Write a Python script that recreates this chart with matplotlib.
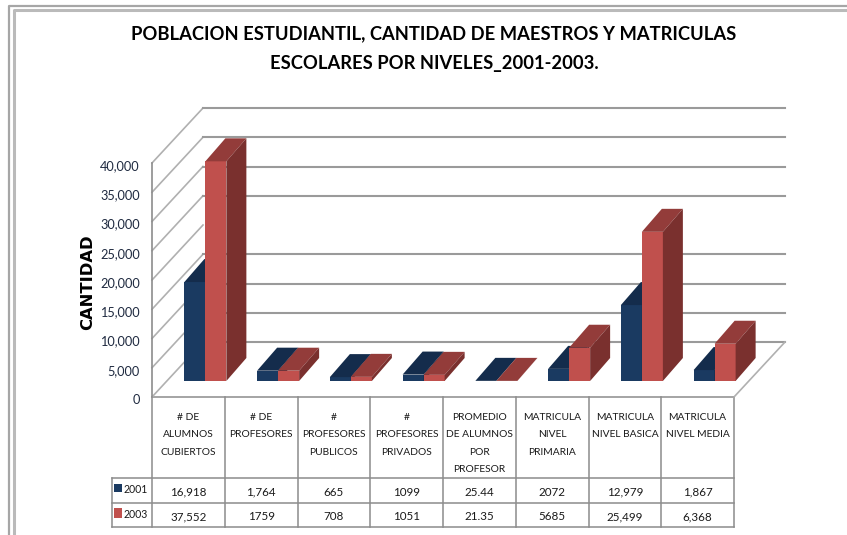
#!/usr/bin/env python3
# -*- coding: utf-8 -*-
import matplotlib
matplotlib.use('Agg')
import matplotlib.pyplot as plt
from matplotlib.patches import Polygon

categorias = [
    "# DE\nALUMNOS\nCUBIERTOS", "# DE\nPROFESORES", "#\nPROFESORES\nPUBLICOS",
    "#\nPROFESORES\nPRIVADOS", "PROMEDIO\nDE ALUMNOS\nPOR\nPROFESOR",
    "MATRICULA\nNIVEL\nPRIMARIA", "MATRICULA\nNIVEL BASICA", "MATRICULA\nNIVEL MEDIA",
]
v2001 = [16918, 1764, 665, 1099, 25.44, 2072, 12979, 1867]
v2003 = [37552, 1759, 708, 1051, 21.35, 5685, 25499, 6368]
t2001 = ["16,918", "1,764", "665", "1099", "25.44", "2072", "12,979", "1,867"]
t2003 = ["37,552", "1759", "708", "1051", "21.35", "5685", "25,499", "6,368"]
y_ticks = [0, 5000, 10000, 15000, 20000, 25000, 30000, 35000, 40000]
y_labels = ["0", "5,000", "10,000", "15,000", "20,000", "25,000", "30,000", "35,000", "40,000"]

W, H = 847, 535
FUENTE = ['Lato', 'DejaVu Sans']
AZUL, AZUL_T, AZUL_L = '#1a3a61', '#142c4c', '#102440'
ROJO, ROJO_T, ROJO_L = '#c0504d', '#933c3a', '#7a302e'
GRIS = '#8c8c8c'

fig = plt.figure(figsize=(W / 100, H / 100), dpi=100)

# ejes del plano frontal, en pixeles: x 152-734, y 397-163
X0, X1, Y0, Y1 = 152, 734, 397, 163
ax = fig.add_axes([X0 / W, 1 - Y0 / H, (X1 - X0) / W, (Y0 - Y1) / H])
ax.set_xlim(0, 8)
ax.set_ylim(0, 40000)
ax.axis('off')

PX = 8 / (X1 - X0)
PY = 40000 / (Y0 - Y1)

# fondo de la figura: marco gris doble
bg = fig.add_axes([0, 0, 1, 1], zorder=-1)
bg.set_xlim(0, W)
bg.set_ylim(H, 0)
bg.axis('off')
bg.plot([8.5, 8.5, W], [H, 5.5, 5.5], color='#a6a6a6', lw=1.6)
bg.plot([13.5, 13.5, W], [H, 10, 10], color='#bababa', lw=2.2)

# paredes con las lineas de la cuadricula
DX, DY = 51 * PX, 55 * PY
for t in y_ticks:
    ax.plot([0, DX], [t, t + DY], color='#b0b0b0', lw=1.2, clip_on=False, zorder=1)
    # la linea de 20,000 no se ve en la pared del fondo
    if t != 20000:
        ax.plot([DX, 8 + DX], [t + DY, t + DY], color='#9a9a9a', lw=1.5, clip_on=False, zorder=1)
ax.plot([8, 8 + DX], [0, DY], color='#b0b0b0', lw=1.2, clip_on=False, zorder=1)
ax.plot([0, 0], [0, 40000], color=GRIS, lw=1.2, clip_on=False, zorder=1)


def barra(x0, ancho, val, c_f, c_t, c_l, z):
    # barra 3D: frente + tapa + lado, en unidades de los ejes
    base = 16 * PY
    dx, dy = 20 * PX, 23 * PY
    ax.bar(x0, val, ancho, bottom=base, align='edge', color=c_f, zorder=z, clip_on=False)
    top = base + val
    ax.add_patch(Polygon([(x0, top), (x0 + dx, top + dy), (x0 + ancho + dx, top + dy), (x0 + ancho, top)],
                         color=c_t, lw=0, zorder=z, clip_on=False))
    ax.add_patch(Polygon([(x0 + ancho, base), (x0 + ancho + dx, base + dy), (x0 + ancho + dx, top + dy), (x0 + ancho, top)],
                         color=c_l, lw=0, zorder=z, clip_on=False))


ancho = 21 * PX
for i in range(8):
    c = i + 0.5 + 17 * PX
    barra(c - ancho, ancho, v2001[i], AZUL, AZUL_T, AZUL_L, 3)
    barra(c, ancho, v2003[i], ROJO, ROJO_T, ROJO_L, 4)

# etiquetas del eje y
for t, lab in zip(y_ticks, y_labels):
    ax.annotate(lab, (0, t), xytext=(-12, -3), textcoords='offset pixels', ha='right', va='center',
                family=FUENTE, fontsize=9.2, color='#1f2a40')

fig.text(88 / W, 1 - 282 / H, "CANTIDAD", rotation=90, ha='center', va='center',
         family='DejaVu Sans', fontweight='bold', fontsize=11.8, color='black')

fig.text(434 / W, 1 - 34 / H, "POBLACION ESTUDIANTIL, CANTIDAD DE MAESTROS Y MATRICULAS",
         ha='center', va='center', family=FUENTE, fontweight='bold', fontsize=13.2, color='black')
fig.text(434 / W, 1 - 64 / H, "ESCOLARES POR NIVELES_2001-2003.",
         ha='center', va='center', family=FUENTE, fontweight='bold', fontsize=13.2, color='black')

# tabla de datos
T1, T2, T3 = 478, 503, 527
XL = 112
paso = (X1 - X0) / 8
for i in range(9):
    x = X0 + i * paso
    bg.plot([x, x], [Y0, T3], color=GRIS, lw=1.1, zorder=2)
bg.plot([X0, X1], [Y0, Y0], color=GRIS, lw=1.1, zorder=2)
for y in (T1, T2, T3):
    bg.plot([XL, X1], [y, y], color=GRIS, lw=1.1, zorder=2)
bg.plot([XL, XL], [T1, T3], color=GRIS, lw=1.1, zorder=2)

for i in range(8):
    x = X0 + (i + 0.5) * paso
    bg.text(x, 413, categorias[i], ha='center', va='top', family=FUENTE, fontsize=7.4,
            color='#1a1a1a', linespacing=2.2)
    bg.text(x, T1 + 14, t2001[i], ha='center', va='center', family=FUENTE, fontsize=8.4, color='#1a1a1a')
    bg.text(x, T2 + 14, t2003[i], ha='center', va='center', family=FUENTE, fontsize=8.4, color='#1a1a1a')

for y, col, txt, alto in ((488, AZUL, "2001", 4), (513, ROJO, "2003", 5)):
    bg.add_patch(Polygon([(114, y - alto), (122, y - alto), (122, y + alto), (114, y + alto)], color=col, lw=0))
    bg.text(124, y + 1.5, txt, ha='left', va='center', family=FUENTE, fontsize=7.6, color='#1a1a1a')

plt.savefig('out.png', dpi=100)
